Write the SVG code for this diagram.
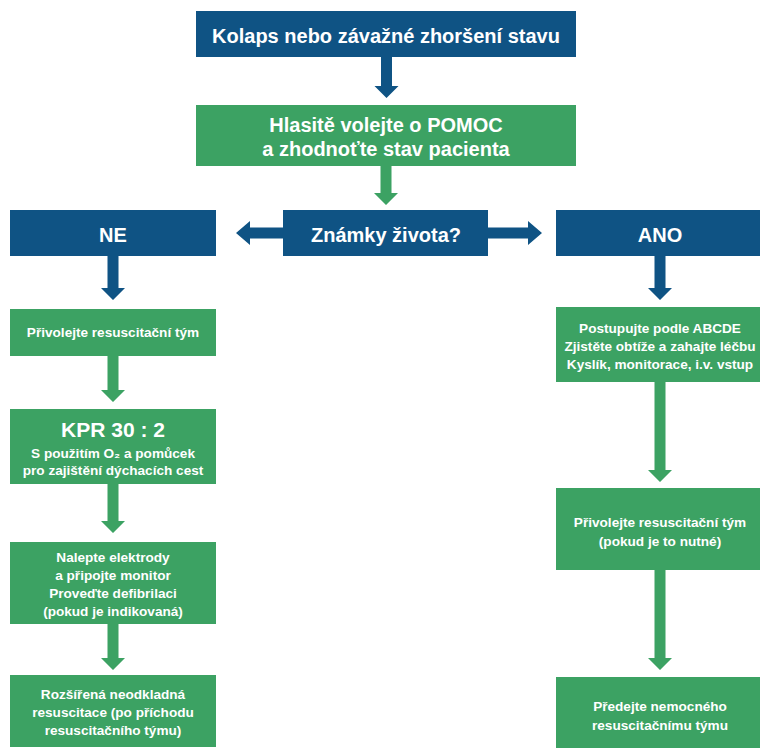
<svg xmlns="http://www.w3.org/2000/svg" width="760" height="748" viewBox="0 0 760 748">
<style>
.blue{fill:#0f5384}
.green{fill:#3ca263}
text{font-family:"Liberation Sans",Arial,sans-serif;font-weight:bold;fill:#fff;text-anchor:middle}
.big{font-size:20px}
.kpr{font-size:21px}
.sm{font-size:13.6px}
</style>
<rect width="760" height="748" fill="#fff"/>
<g id="connectors">
<polygon class="blue" points="381,57 392,57 392,86 398.5,86 386.5,98 374.5,86 381,86"/>
<polygon class="green" points="380.5,166 391.5,166 391.5,193 398,193 386,205 374,193 380.5,193"/>
<polygon class="blue" points="283,227.5 250,227.5 250,221 236,233 250,245 250,238.5 283,238.5"/>
<polygon class="blue" points="488,227.5 528,227.5 528,221 542,233 528,245 528,238.5 488,238.5"/>
<polygon class="blue" points="107.5,256 118.5,256 118.5,288 125,288 113,300 101,288 107.5,288"/>
<polygon class="blue" points="654.5,256 665.5,256 665.5,288 672,288 660,300 648,288 654.5,288"/>
<polygon class="green" points="107.5,356 118.5,356 118.5,390 125,390 113,402 101,390 107.5,390"/>
<polygon class="green" points="107.5,484 118.5,484 118.5,521 125,521 113,533 101,521 107.5,521"/>
<polygon class="green" points="107.5,624 118.5,624 118.5,658 125,658 113,670 101,658 107.5,658"/>
<polygon class="green" points="654.5,382 665.5,382 665.5,470 672,470 660,482 648,470 654.5,470"/>
<polygon class="green" points="654.5,570 665.5,570 665.5,658 672,658 660,670 648,658 654.5,658"/>
</g>
<g id="n-kolaps"><rect class="blue" x="196" y="11" width="380" height="46"/><text class="big" x="386" y="43">Kolaps nebo závažné zhoršení stavu</text></g>
<g id="n-hlasite"><rect class="green" x="196" y="105" width="380" height="61"/><text class="big" x="386" y="132">Hlasitě volejte o POMOC</text><text class="big" x="386" y="156">a zhodnoťte stav pacienta</text></g>
<g id="n-ne"><rect class="blue" x="10" y="210" width="206" height="46"/><text class="big" x="113" y="242">NE</text></g>
<g id="n-znamky"><rect class="blue" x="283" y="210" width="205" height="46"/><text class="big" x="386" y="242">Známky života?</text></g>
<g id="n-ano"><rect class="blue" x="556" y="210" width="210" height="46"/><text class="big" x="660" y="242">ANO</text></g>
<g id="n-privolejte1"><rect class="green" x="10" y="309" width="206" height="47"/><text class="sm" x="113" y="337">Přivolejte resuscitační tým</text></g>
<g id="n-kpr"><rect class="green" x="10" y="409" width="206" height="75"/><text class="kpr" x="113" y="437">KPR 30 : 2</text><text class="sm" x="113" y="458">S použitím O₂ a pomůcek</text><text class="sm" x="113" y="475">pro zajištění dýchacích cest</text></g>
<g id="n-nalepte"><rect class="green" x="10" y="542" width="206" height="82"/><text class="sm" x="113" y="562">Nalepte elektrody</text><text class="sm" x="113" y="580">a připojte monitor</text><text class="sm" x="113" y="598">Proveďte defibrilaci</text><text class="sm" x="113" y="616">(pokud je indikovaná)</text></g>
<g id="n-rozsirena"><rect class="green" x="10" y="675" width="206" height="72"/><text class="sm" x="113" y="699">Rozšířená neodkladná</text><text class="sm" x="113" y="717">resuscitace (po příchodu</text><text class="sm" x="113" y="735">resuscitačního týmu)</text></g>
<g id="n-abcde"><rect class="green" x="556" y="307" width="210" height="75"/><text class="sm" x="660" y="333">Postupujte podle ABCDE</text><text class="sm" x="660" y="351">Zjistěte obtíže a zahajte léčbu</text><text class="sm" x="660" y="369">Kyslík, monitorace, i.v. vstup</text></g>
<g id="n-privolejte2"><rect class="green" x="556" y="488" width="210" height="82"/><text class="sm" x="660" y="527">Přivolejte resuscitační tým</text><text class="sm" x="660" y="546">(pokud je to nutné)</text></g>
<g id="n-predejte"><rect class="green" x="556" y="677" width="210" height="71"/><text class="sm" x="660" y="711">Předejte nemocného</text><text class="sm" x="660" y="730">resuscitačnímu týmu</text></g>
</svg>
